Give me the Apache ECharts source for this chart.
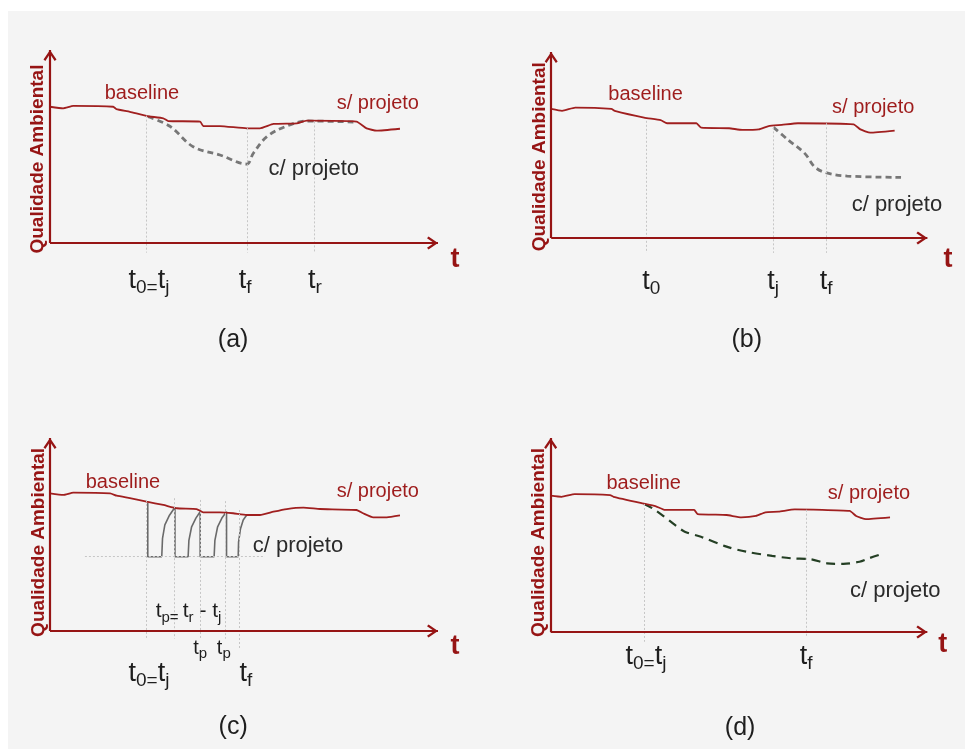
<!DOCTYPE html>
<html>
<head>
<meta charset="utf-8">
<script src="https://cdn.jsdelivr.net/npm/echarts@6/dist/echarts.min.js"></script>
<style>
  html, body { margin: 0; padding: 0; background: #fff; }
  #bg { position: absolute; left: 8px; top: 11px; right: 0; bottom: 0; background: #f4f4f4; }
  #chart { position: absolute; left: 0; top: 0; width: 965px; height: 749px; }
</style>
</head>
<body>
<div id="bg"></div>
<div id="chart"></div>
<script>
// valores (x: 0..100 ao longo do eixo t, y: 0..100 ao longo do eixo vertical)
const baselineA = [[0,70.6],[3.4,69.8],[6.0,71.0],[16.3,70.6],[17.1,69.4],[20.6,68.0],[24.9,65.8],[29.2,64.6],[30.5,63.2],[38.7,62.9],[39.5,60.6],[43.8,60.6],[50.7,59.4],[54.1,59.4],[57.6,61.7],[63.6,62.0],[66.2,63.4],[79.0,62.9],[81.6,59.4],[84.2,58.2],[90.2,59.2]];
const projetoA = [[25.3,65.4],[30.9,60.5],[36.9,49.9],[43.8,45.6],[50.7,40.9],[52.4,46.5],[55.9,55.1],[61.0,60.6],[66.2,63.2],[78.2,62.7]];

const baselineB = [[0,69.4],[2.9,68.4],[6.4,70.1],[16.0,69.4],[16.9,68.3],[24.7,64.7],[29.1,63.4],[30.8,61.7],[38.6,61.7],[39.9,59.3],[47.3,59.0],[50.8,58.1],[55.2,58.4],[57.8,60.2],[61.3,60.8],[65.6,61.7],[80.4,61.1],[82.2,58.4],[84.8,56.6],[91.3,57.7]];
const projetoB = [[59.1,59.5],[63.0,52.7],[67.4,45.5],[70.0,38.3],[73.0,35.1],[78.7,33.3],[93.0,32.6]];

const baselineC = [[0,71.3],[3.4,70.5],[6.0,71.7],[15.5,71.3],[17.2,70.1],[20.6,68.8],[24.9,67.0],[29.2,65.3],[32.7,63.6],[37.8,63.2],[39.5,61.5],[43.8,61.5],[47.2,61.0],[50.7,60.1],[54.1,60.1],[57.6,61.8],[61.0,63.2],[65.3,63.9],[69.6,63.2],[79.0,62.7],[80.7,61.0],[83.3,58.9],[86.8,58.9],[90.2,59.9]];
const projetoC = [[25.2,66.5],[25.2,38.5],[28.8,38.5],[29.0,48],[29.6,55],[30.8,60],[32.2,64.1],[32.2,38.5],[35.6,38.5],[35.8,47],[36.5,54],[37.6,58.5],[38.7,61.8],[38.7,38.5],[42.3,38.5],[42.5,47],[43.2,54],[44.3,58.5],[45.5,61.8],[45.5,38.5],[48.5,38.5],[48.6,46],[49.1,53],[49.8,57.5],[50.7,60.1]];

const baselineD = [[0,70.3],[2.9,69.7],[6.4,71.1],[15.8,70.6],[16.7,69.7],[24.4,66.3],[27.8,64.9],[30.4,62.9],[38.1,62.9],[39.0,60.8],[46.7,60.3],[50.6,59.1],[54.5,59.8],[57.0,61.7],[60.5,62.0],[64.8,63.2],[79.4,62.4],[81.1,59.8],[83.7,58.2],[90.1,59.1]];
const projetoD = [[24.8,66.0],[27.0,63.8],[29.6,60.3],[33.0,55.2],[35.6,51.7],[39.9,49.1],[46.7,44.0],[51.9,41.4],[58.8,39.2],[63.9,38.0],[69.1,37.5],[73.4,35.4],[77.7,35.1],[82.0,36.2],[84.5,38.0],[87.1,39.7]];

// linhas pontilhadas verticais: [t, topo, base]
const guidesA = [[24.9,66,-5],[50.9,59.5,-5],[68.0,63,-5]];
const guidesB = [[25.2,63,-8],[59.1,59.5,-8],[73.0,61.7,-8]];
const guidesC = [[24.9,67.9,-4],[32.0,68.8,-4],[38.7,67.9,-4],[45.1,67.3,-4],[48.8,62.7,-9]];
const guidesD = [[24.8,66,-5],[67.8,63,-3]];
const hguideC = [[9.0,38.5],[55.4,38.5]];

// textos: [texto, t, y, tipo]
const labelsA = [
  ['Qualidade Ambiental', -3.2, 43.5, 'ylab'],
  ['baseline', 23.7, 77.7, 'red'],
  ['s/ projeto', 84.5, 72.5, 'red'],
  ['c/ projeto', 68.0, 38.3, 'gray'],
  ['{m|t}{s|0=}{m|t}{s|j}', 25.5, -20.2, 'tick'],
  ['{m|t}{s|f}', 50.3, -20.2, 'tick'],
  ['{m|t}{s|r}', 68.3, -20.2, 'tick'],
  ['t', 104.4, -8.8, 'axisT'],
  ['(a)', 47.2, -50.3, 'cap']
];
const labelsB = [
  ['Qualidade Ambiental', -3.1, 43.7, 'ylab'],
  ['baseline', 25.1, 76.9, 'red'],
  ['s/ projeto', 85.6, 70.4, 'red'],
  ['c/ projeto', 91.9, 17.7, 'gray'],
  ['{m|t}{s|0}', 26.6, -24.2, 'tick'],
  ['{m|t}{s|j}', 59.0, -24.2, 'tick'],
  ['{m|t}{s|f}', 73.1, -24.2, 'tick'],
  ['t', 105.5, -11.8, 'axisT'],
  ['(b)', 52.0, -54.8, 'cap']
];
const labelsC = [
  ['Qualidade Ambiental', -2.8, 45.9, 'ylab'],
  ['baseline', 18.8, 76.7, 'red'],
  ['s/ projeto', 84.5, 72.5, 'red'],
  ['c/ projeto', 63.9, 44.0, 'gray'],
  ['{m|t}{s|p= }{m|t}{s|r}{m| - t}{s|j}', 35.7, 9.3, 'small'],
  ['{m|t}{s|p}', 38.7, -9.8, 'tiny'],
  ['{m|t}{s|p}', 44.8, -9.8, 'tiny'],
  ['{m|t}{s|0=}{m|t}{s|j}', 25.5, -22.8, 'tick'],
  ['{m|t}{s|f}', 50.5, -22.8, 'tick'],
  ['t', 104.4, -8.3, 'axisT'],
  ['(c)', 47.2, -49.7, 'cap']
];
const labelsD = [
  ['Qualidade Ambiental', -3.1, 46.1, 'ylab'],
  ['baseline', 24.7, 76.3, 'red'],
  ['s/ projeto', 84.5, 71.6, 'red'],
  ['c/ projeto', 91.5, 21.1, 'gray'],
  ['{m|t}{s|0=}{m|t}{s|j}', 25.3, -13.4, 'tick'],
  ['{m|t}{s|f}', 67.8, -13.4, 'tick'],
  ['t', 104.1, -6.7, 'axisT'],
  ['(d)', 50.3, -49.5, 'cap']
];

const AXIS_RED = '#961414';
const LINE_RED = '#a01f1f';
const INK = '#1e1e1e';
// seta aberta; o pequeno triângulo de cima só centra a ponta no fim da linha
const CHEVRON = 'path://M5,-8.1 L5.02,-8.1 L5,-8.08 Z M5,0 L10,7 L8.6,8.1 L5,2.9 L1.4,8.1 L0,7 Z';

const richTick = (big, small) => ({
  m: { fontSize: big, color: INK, verticalAlign: 'bottom', padding: [0, 0, 3, 0] },
  s: { fontSize: small, color: INK, verticalAlign: 'bottom' }
});
const textStyles = {
  red:   { fontSize: 20, color: '#9e1c1c' },
  gray:  { fontSize: 22, color: '#2a2a2a' },
  tick:  { rich: richTick(27, 19) },
  small: { rich: richTick(21, 15) },
  tiny:  { rich: richTick(20, 15) },
  axisT: { fontSize: 27, fontWeight: 'bold', color: AXIS_RED },
  cap:   { fontSize: 25, color: INK },
  ylab:  { fontSize: 19, fontWeight: 'bold', color: AXIS_RED, rotate: 90 }
};

const panels = [
  { ox: 50,  oy: 243, L: 388, H: 193, base: baselineA, proj: projetoA, guides: guidesA, hguide: [], labels: labelsA,
    projStyle: { color: '#777', width: 2.8, type: [6, 4] }, smooth: 0.35 },
  { ox: 552, oy: 238, L: 383, H: 186, base: baselineB, proj: projetoB, guides: guidesB, hguide: [], labels: labelsB,
    projStyle: { color: '#777', width: 2.8, type: [6, 4] }, smooth: 0.35 },
  { ox: 50,  oy: 631, L: 388, H: 193, base: baselineC, proj: projetoC, guides: guidesC, hguide: hguideC, labels: labelsC,
    projStyle: { color: '#6a6a6a', width: 1.6, type: 'solid' }, smooth: false },
  { ox: 552, oy: 632, L: 388, H: 194, base: baselineD, proj: projetoD, guides: guidesD, hguide: [], labels: labelsD,
    projStyle: { color: '#243f24', width: 2.2, type: [9, 6] }, smooth: 0.3 }
];

const XMIN = -12, XMAX = 110, YMIN = -60, YMAX = 110;

const grid = [], xAxis = [], yAxis = [], series = [];
panels.forEach((p, i) => {
  grid.push({
    left: p.ox + XMIN * p.L / 100,
    top: p.oy - YMAX * p.H / 100,
    width: (XMAX - XMIN) * p.L / 100,
    height: (YMAX - YMIN) * p.H / 100
  });
  xAxis.push({ gridIndex: i, type: 'value', min: XMIN, max: XMAX, show: false });
  yAxis.push({ gridIndex: i, type: 'value', min: YMIN, max: YMAX, show: false });

  const guideLines = p.guides.map(g => [{ coord: [g[0], g[1]] }, { coord: [g[0], g[2]] }]);
  if (p.hguide.length) guideLines.push([{ coord: p.hguide[0] }, { coord: p.hguide[1] }]);

  series.push({
    type: 'line', xAxisIndex: i, yAxisIndex: i, data: [], silent: true,
    markLine: {
      silent: true, animation: false, symbol: 'none', label: { show: false },
      lineStyle: { color: '#c6c6c6', width: 1, type: [2, 2] },
      data: guideLines
    }
  });
  series.push({
    type: 'line', xAxisIndex: i, yAxisIndex: i, data: [], silent: true, z: 5,
    markLine: {
      silent: true, animation: false, symbol: ['none', CHEVRON], symbolSize: [13, 22],
      label: { show: false },
      lineStyle: { color: AXIS_RED, width: 2.2, type: 'solid' },
      data: [
        [{ coord: [0, 0] }, { coord: [100, 0] }],
        [{ coord: [0, 0] }, { coord: [0, 100] }]
      ]
    }
  });
  series.push({
    type: 'line', xAxisIndex: i, yAxisIndex: i, data: p.base, showSymbol: false, smooth: 0.15,
    lineStyle: { color: LINE_RED, width: 1.8 }, z: 4
  });
  series.push({
    type: 'line', xAxisIndex: i, yAxisIndex: i, data: p.proj, showSymbol: false, smooth: p.smooth,
    lineStyle: p.projStyle, z: 3
  });
  series.push({
    type: 'scatter', xAxisIndex: i, yAxisIndex: i, symbolSize: 1, silent: true, z: 10,
    itemStyle: { color: 'rgba(0,0,0,0)', opacity: 1 },
    data: p.labels.map(l => ({
      value: [l[1], l[2]],
      label: Object.assign({ show: true, position: 'inside', formatter: l[0] }, textStyles[l[3]])
    }))
  });
});

const chart = echarts.init(document.getElementById('chart'));
chart.setOption({
  animation: false,
  backgroundColor: 'transparent',
  textStyle: { fontFamily: '"Liberation Sans", Arial, sans-serif' },
  grid, xAxis, yAxis, series
});
</script>
</body>
</html>
